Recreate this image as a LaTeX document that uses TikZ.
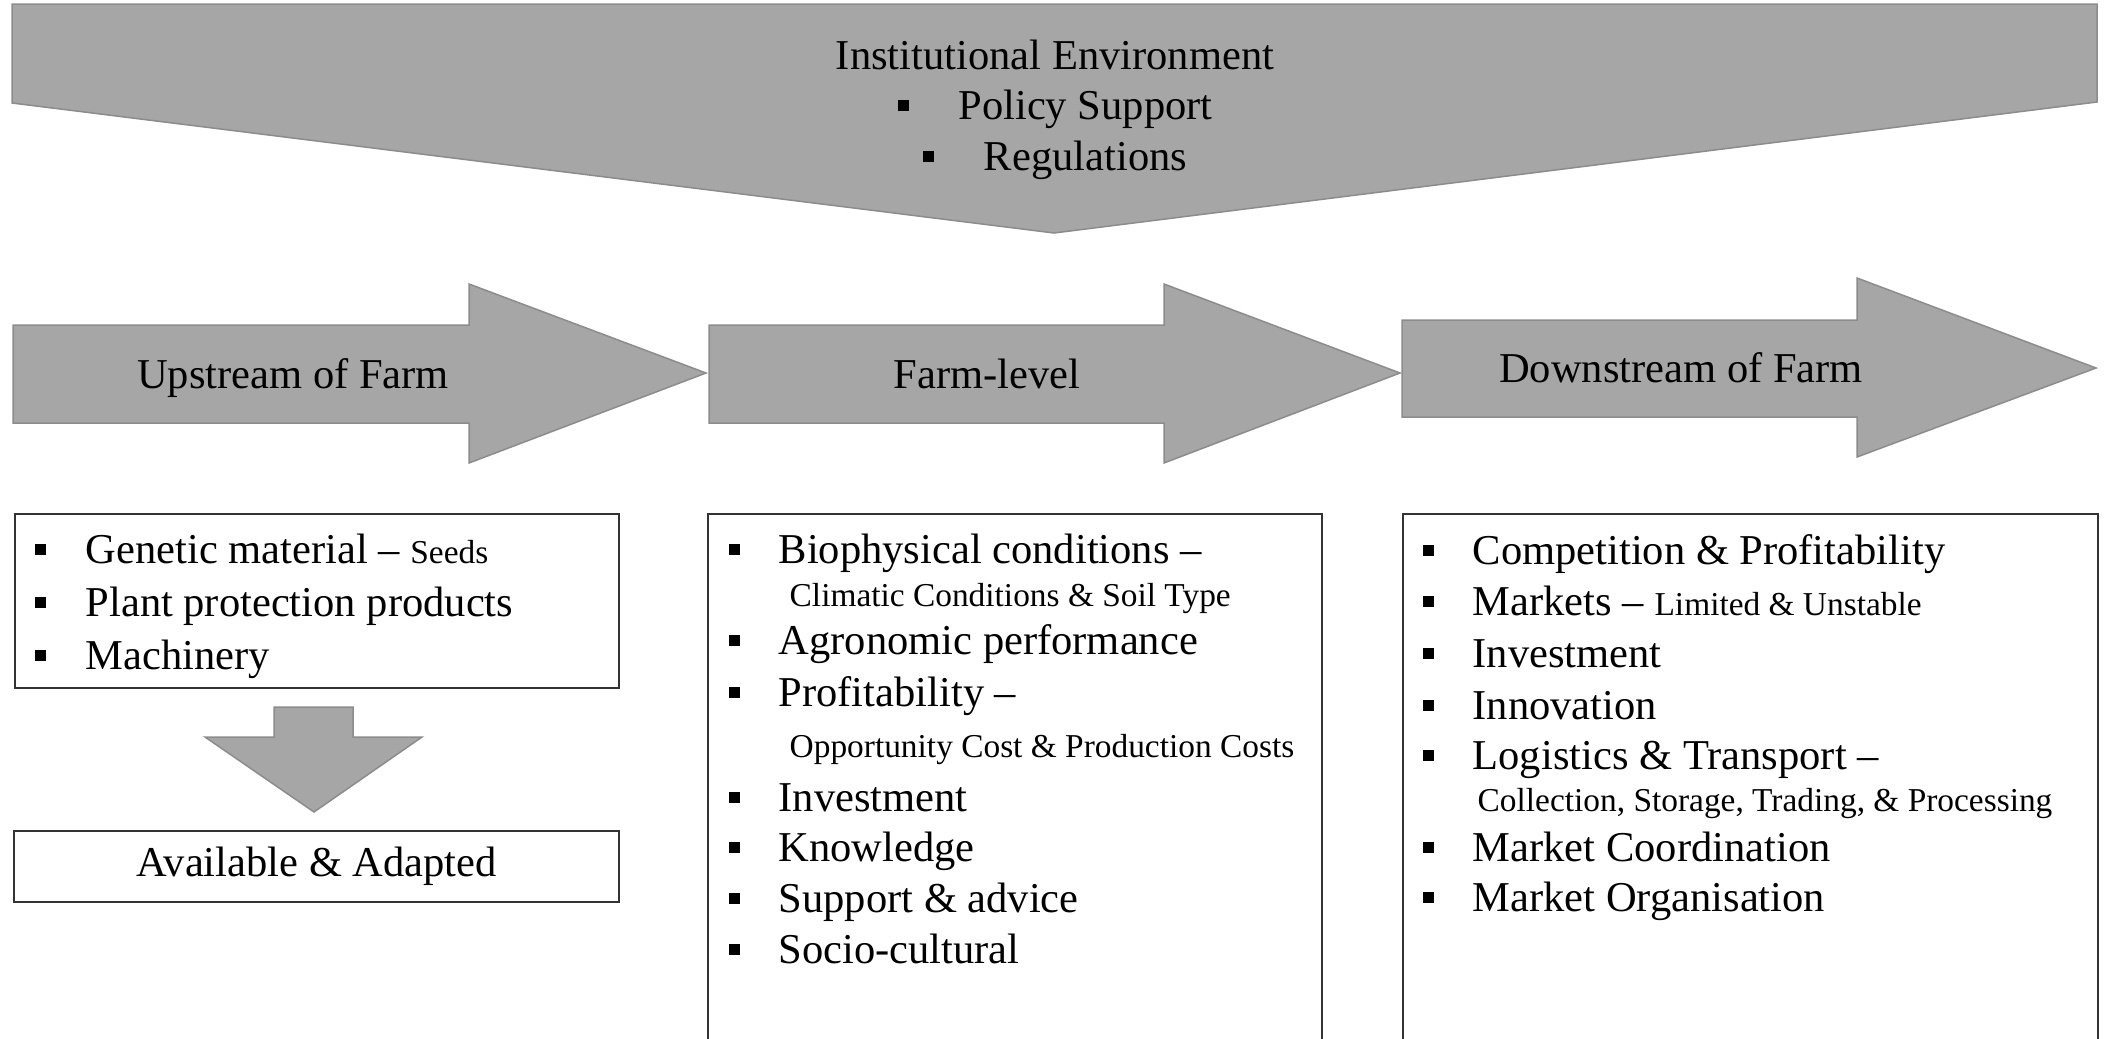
\documentclass[tikz,border=0pt]{standalone}
\usepackage{fontspec}
\setmainfont{Liberation Serif}
\usetikzlibrary{positioning}
\newcommand{\bulletsq}[1]{\makebox[#1][l]{\rule[0.19em]{0.26em}{0.26em}}}
\newcommand{\smtxt}[1]{{\fontsize{9.5}{11.4}\selectfont #1}}

\begin{document}
\begin{tikzpicture}[x=0.1mm, y=-0.1mm,
  grayshape/.style={fill=black!35, draw=black!45, line width=0.15mm},
  listbox/.style={draw=black!80, line width=0.2mm},
  txt/.style={font=\fontsize{12.1}{14.5}\selectfont, inner sep=0pt},
  subtxt/.style={font=\fontsize{9.5}{11.4}\selectfont, inner sep=0pt}]
  \useasboundingbox (0,0) rectangle (2108,1038);
  % institutional environment on top
  \path[grayshape] (12,4) -- (2097,4) -- (2097,102) -- (1054,233) -- (12,103) -- cycle;
  \node[txt, anchor=base] (inst)   at (1055,69)  {Institutional Environment};
  \node[txt, anchor=base] (policy) at (1055,119) {\bulletsq{6.1mm}Policy Support};
  \node[txt, anchor=base] (regul)  at (1055,170) {\bulletsq{6.1mm}Regulations};
  % the three stages
  \path[grayshape] (13,325) -- (469,325) -- (469,284) -- (706,373) -- (469,463) -- (469,423) -- (13,423) -- cycle;
  \path[grayshape] (709,325) -- (1164,325) -- (1164,284) -- (1400,373) -- (1164,463) -- (1164,423) -- (709,423) -- cycle;
  \path[grayshape] (1402,320) -- (1857,320) -- (1857,278) -- (2096,368) -- (1857,457) -- (1857,417) -- (1402,417) -- cycle;
  \node[txt, anchor=base] (upstream)   at (293,388)  {Upstream of Farm};
  \node[txt, anchor=base] (farmlevel)  at (987,388)  {Farm-level};
  \node[txt, anchor=base] (downstream) at (1681,382) {Downstream of Farm};
  % upstream factors
  \draw[listbox] (15,514) rectangle (619,688);
  \foreach \yy/\lbl [count=\k] in {563/{Genetic material -- \smtxt{Seeds}}, 616/{Plant protection products}, 669/{Machinery}}
    \node[txt, anchor=base west] (up\k) at (34,\yy) {\bulletsq{5.1mm}\lbl};
  \path[grayshape] (274,707) -- (353,707) -- (353,737) -- (422,737) -- (314,812) -- (205,737) -- (274,737) -- cycle;
  \node[txt, listbox, minimum width=60.5mm, minimum height=7.1mm] (avail) at (316.5,866.5) {Available \& Adapted};
  % farm-level factors
  \draw[listbox] (708,1045) -- (708,514) -- (1322,514) -- (1322,1045);
  \foreach \yy/\lbl [count=\k] in {563/{Biophysical conditions --}, 654/{Agronomic performance}, 706/{Profitability --},
      811/{Investment}, 861/{Knowledge}, 912/{Support \& advice}, 963/{Socio-cultural}}
    \node[txt, anchor=base west] (farm\k) at (728,\yy) {\bulletsq{5mm}\lbl};
  \node[subtxt, anchor=base west] (climate) at (789,606) {Climatic Conditions \& Soil Type};
  \node[subtxt, anchor=base west] (costs)   at (789,757) {Opportunity Cost \& Production Costs};
  % downstream factors
  \draw[listbox] (1403,1045) -- (1403,514) -- (2098,514) -- (2098,1045);
  \foreach \yy/\lbl [count=\k] in {564/{Competition \& Profitability}, 615/{Markets -- \smtxt{Limited \& Unstable}},
      667/{Investment}, 719/{Innovation}, 769/{Logistics \& Transport --}, 861/{Market Coordination}, 911/{Market Organisation}}
    \node[txt, anchor=base west] (down\k) at (1422,\yy) {\bulletsq{5mm}\lbl};
  \node[subtxt, anchor=base west] (logist) at (1477,811) {Collection, Storage, Trading, \& Processing};
\end{tikzpicture}
\end{document}
